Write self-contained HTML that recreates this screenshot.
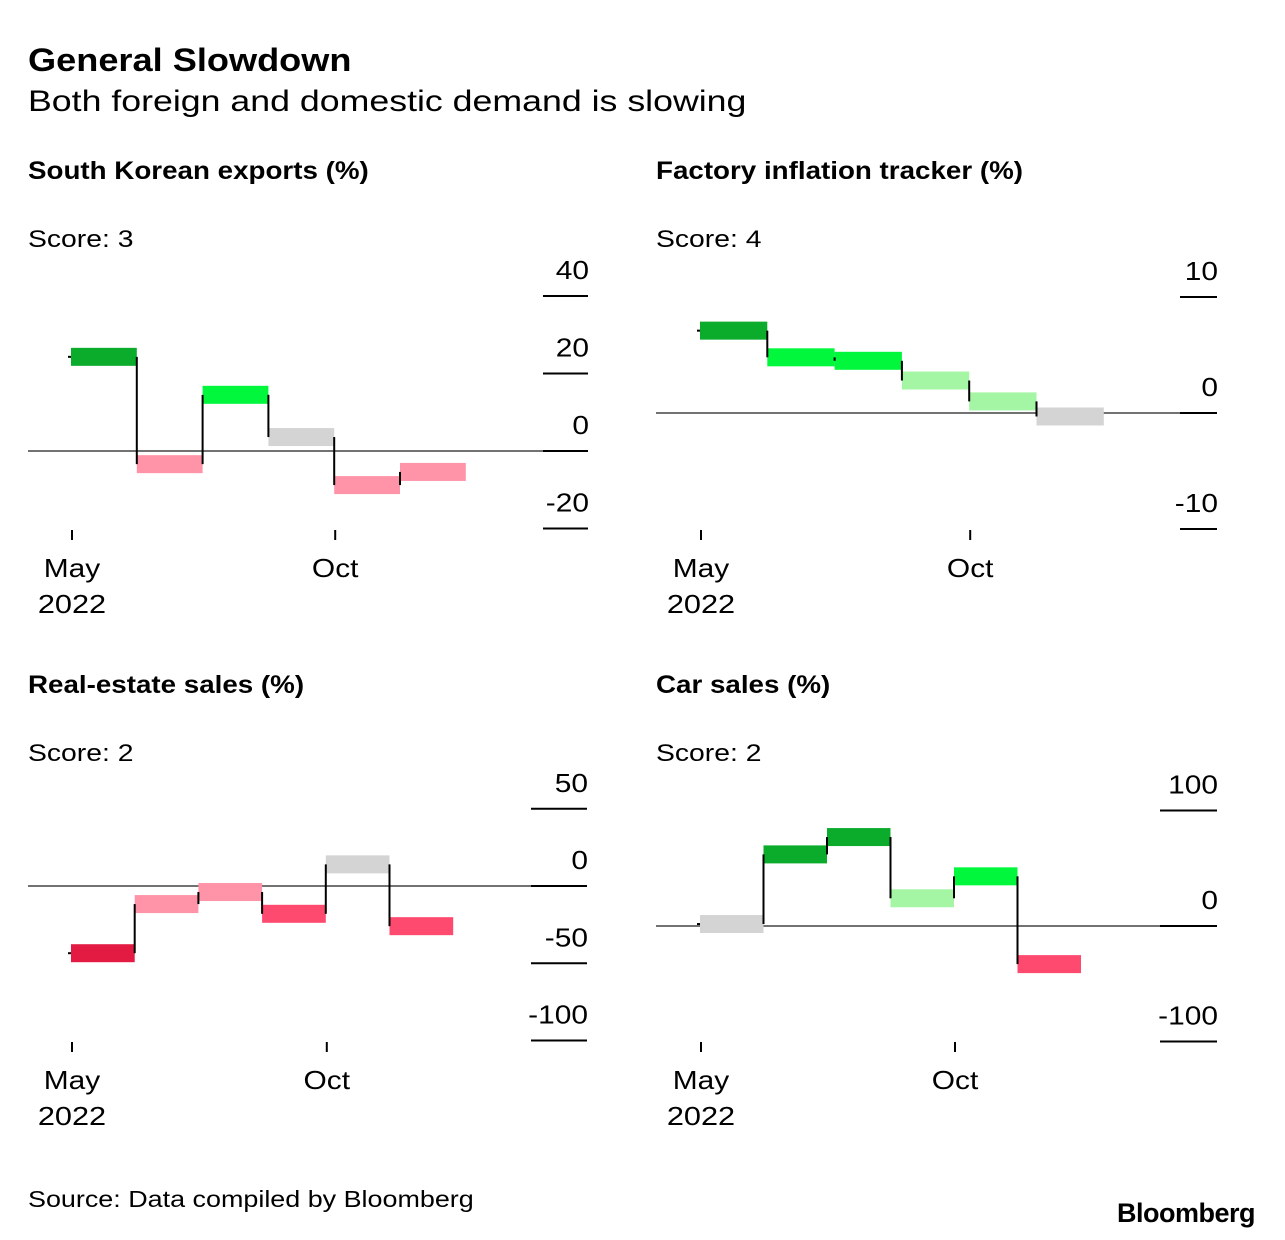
<!DOCTYPE html>
<html><head><meta charset="utf-8"><style>
body{margin:0;background:#fff;width:1285px;height:1240px;overflow:hidden;font-family:"Liberation Sans",sans-serif;color:#000}
.t{position:absolute;white-space:nowrap;transform-origin:0 0}
</style></head><body>
<div class="t" style="left:28px;top:42px;font-size:32px;font-weight:bold;transform:scaleX(1.13)">General Slowdown</div>
<div class="t" style="left:28px;top:85px;font-size:30px;transform:scaleX(1.19)">Both foreign and domestic demand is slowing</div>
<svg id="svg" width="1285" height="1240" style="position:absolute;left:0;top:0"></svg>
<div class="t" style="left:28px;top:1186px;font-size:23px;transform:scaleX(1.17)">Source: Data compiled by Bloomberg</div>
<div class="t" style="left:1117px;top:1198px;font-size:27px;font-weight:bold;letter-spacing:-0.5px">Bloomberg</div>
<script>
const exportsValues=[24.3,-3.4,14.5,3.6,-8.8,-5.4];
const exportsColors=["dg","pk","bg","gy","pk","pk"];
const factoryValues=[7.1,4.8,4.5,2.8,1.0,-0.3];
const factoryColors=["dg","bg","bg","lg","lg","gy"];
const estateValues=[-43.5,-11.7,-3.9,-18,14,-26];
const estateColors=["cr","pk","pk","rs","gy","rs"];
const carValues=[1.7,62,77,24,43,-33];
const carColors=["gy","dg","dg","lg","bg","rs"];
const exportsTicks=[40,20,0,-20];
const factoryTicks=[10,0,-10];
const estateTicks=[50,0,-50,-100];
const carTicks=[100,0,-100];
const monthLabels=["May","Oct"];
const monthIndex=[0,4];
const palette={dg:"#0bab2c",bg:"#00f73b",lg:"#a4f5a4",gy:"#d4d4d4",pk:"#ff93a8",rs:"#ff4a6f",cr:"#e31b43"};
const svg=document.getElementById('svg');
const NS="http://www.w3.org/2000/svg";
function mk(tag,attrs){const e=document.createElementNS(NS,tag);for(const k in attrs)e.setAttribute(k,attrs[k]);svg.appendChild(e);return e;}
function txt(x,y,s,anchor,size,weight,widen){const e=mk('text',{x:x,y:y,'text-anchor':anchor,'font-size':size,'font-family':'"Liberation Sans",sans-serif','font-weight':weight||'normal'});e.textContent=s;
  const w=e.getComputedTextLength();e.setAttribute('textLength',w*(widen||1.17));e.setAttribute('lengthAdjust','spacingAndGlyphs');return e;}
function panel(p){
  const y=v=>p.zeroY-(v)*p.scale;
  const x=i=>p.barX0+i*p.bw;
  const t=txt(p.left,y(0)-p.titleOff,p.title,'start',25,'bold',1.11);
  
  
  const s=txt(p.left,p.scoreY,p.score,'start',24,'normal',1.18);
  
  
  const z=mk('line',{x1:p.left,x2:p.right,y1:y(0),y2:y(0),stroke:'#444','stroke-width':1.5});
  
  
  p.ticks.forEach(v=>{
    const l=mk('line',{x1:p.right-p.tw,x2:p.right,y1:y(v),y2:y(v),stroke:'#000','stroke-width':2});
    
    
    const tl=txt(p.right+1,y(v)-17,String(v),'end',26,'normal',1.15);
    
    
  });
  const h=18;
  const st=mk('line',{x1:x(0)-3,x2:x(0),y1:y(p.vals[0]),y2:y(p.vals[0]),stroke:'#000','stroke-width':2});
  
  
  p.vals.forEach((v,i)=>{
    const r=mk('rect',{x:x(i),y:y(v)-h/2,width:p.bw,height:h,fill:palette[p.cols[i]]});
    
    
    if(i>0){
      const c=mk('line',{x1:x(i),x2:x(i),y1:y(p.vals[i-1]),y2:y(v),stroke:'#000','stroke-width':2});
      
      
    }
  });
  monthLabels.forEach((m,k)=>{
    const tx=x(monthIndex[k])+1;
    const tk=mk('line',{x1:tx,x2:tx,y1:p.axisY,y2:p.axisY+10,stroke:'#000','stroke-width':2});
    
    
    const ml=txt(tx,p.axisY+47,m,'middle',26,'normal',1.15);
    
    
    if(k==0){const yl=txt(tx,p.axisY+83,'2022','middle',26,'normal',1.18);
      
      }
  });
}
panel({title:'South Korean exports (%)',score:'Score: 3',left:28,right:588,zeroY:451,scale:3.875,barX0:71,bw:65.8,ticks:exportsTicks,vals:exportsValues,cols:exportsColors,axisY:530,scoreY:247,titleOff:272,tw:45});
panel({title:'Factory inflation tracker (%)',score:'Score: 4',left:656,right:1217,zeroY:413,scale:11.6,barX0:700,bw:67.3,ticks:factoryTicks,vals:factoryValues,cols:factoryColors,axisY:530,scoreY:247,titleOff:234,tw:37});
panel({title:'Real-estate sales (%)',score:'Score: 2',left:28,right:587,zeroY:886,scale:1.545,barX0:71,bw:63.7,ticks:estateTicks,vals:estateValues,cols:estateColors,axisY:1042,scoreY:761,titleOff:193,tw:56});
panel({title:'Car sales (%)',score:'Score: 2',left:656,right:1217,zeroY:926,scale:1.155,barX0:700,bw:63.5,ticks:carTicks,vals:carValues,cols:carColors,axisY:1042,scoreY:761,titleOff:233,tw:57});
</script>
</body></html>
